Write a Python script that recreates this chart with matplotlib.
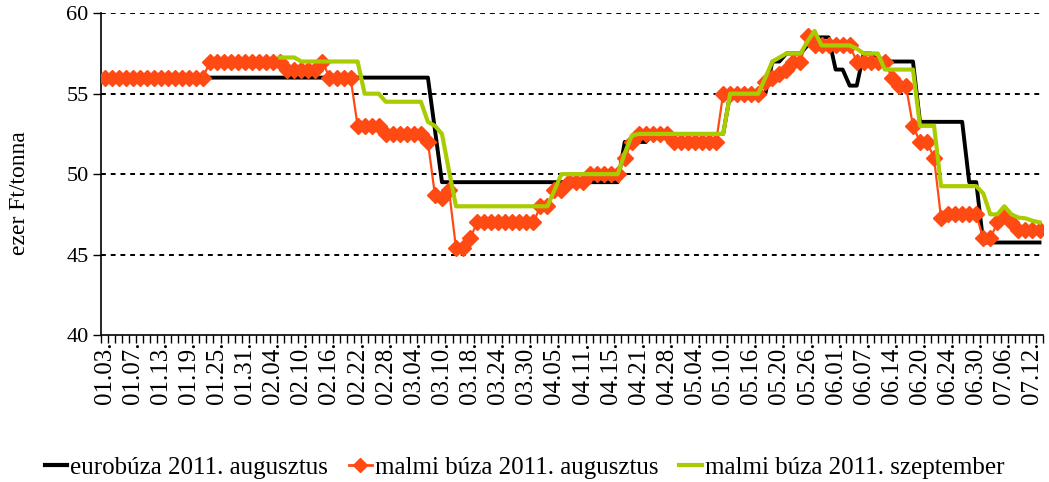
import numpy as np
import matplotlib
matplotlib.use("Agg")
import matplotlib.pyplot as plt
from matplotlib.lines import Line2D

plt.rcParams['font.family'] = ['Liberation Serif', 'DejaVu Serif']

# tőzsdei napok címkéi (minden 4. nap)
tick_labels = ['01.03.', '01.07.', '01.13.', '01.19.', '01.25.', '01.31.', '02.04.',
               '02.10.', '02.16.', '02.22.', '02.28.', '03.04.', '03.10.', '03.18.',
               '03.24.', '03.30.', '04.05.', '04.11.', '04.15.', '04.21.', '04.28.',
               '05.04.', '05.10.', '05.16.', '05.20.', '05.26.', '06.01.', '06.07.',
               '06.14.', '06.20.', '06.24.', '06.30.', '07.06.', '07.12.']

# eurobúza 2011. augusztus (ezer Ft/tonna)
eurobuza_aug = ([56] * 47 + [52.75] + [49.5] * 26 + [52] * 4 + [52.5] * 11 + [55] * 6
                + [57] * 2 + [57.5] * 3 + [58] + [58.5] * 3 + [56.5] * 2 + [55.5] * 2
                + [57.5] * 2 + [57] * 6 + [53.25] * 7 + [49.5] * 2 + [45.75] * 9)

# malmi búza 2011. augusztus
malmi_aug = ([56] * 15 + [57] * 11 + [56.5] * 5 + [57] + [56] * 4 + [53] * 4 + [52.5] * 6
             + [52, 48.7, 48.5, 49] + [45.4] * 2 + [46] + [47] * 9 + [48] * 2 + [49] * 2
             + [49.5] * 3 + [50] * 5 + [51, 52] + [52.5] * 5 + [52] * 7 + [55] * 6
             + [55.75, 56, 56.25, 56.5, 57, 57, 58.6] + [58] * 6 + [57] * 5 + [56]
             + [55.5] * 2 + [53, 52, 52, 51, 47.25] + [47.5] * 5 + [46] * 2
             + [47, 47.5, 47] + [46.5] * 4)

# malmi búza 2011. szeptember (csak január végétől)
malmi_szept = ([np.nan] * 25 + [57.25] * 3 + [57] * 9 + [55] * 3 + [54.5] * 6
               + [53.25, 53, 52.5, 50.2] + [48] * 14 + [49] + [50] * 9 + [51.3, 52.4]
               + [52.5] * 13 + [55] * 5 + [56, 57, 57.25] + [57.5] * 3 + [58.25, 58.9]
               + [58] * 5 + [57.8] + [57.5] * 3 + [56.5] * 5 + [53] * 3 + [49.25] * 6
               + [48.8, 47.5, 47.5, 48, 47.5, 47.3, 47.25, 47.1, 47])

c_black = '#000000'
c_orange = '#FF4A14'
c_green = '#A8CC00'

x = np.arange(len(eurobuza_aug))

fig = plt.figure(figsize=(10.49, 4.82), dpi=100)
ax = fig.add_axes([0.0963, 0.305, 0.8980, 0.6675])

ax.plot(x, eurobuza_aug, color=c_black, lw=2.8, zorder=3,
        label='eurobúza 2011. augusztus')
ax.plot(x, malmi_aug, color=c_orange, lw=1.6, marker='D', ms=8.5, mec=c_orange,
        zorder=4, label='malmi búza 2011. augusztus')
ax.plot(x, malmi_szept, color=c_green, lw=3, zorder=5,
        label='malmi búza 2011. szeptember')

ax.set_xlim(-0.5, len(x) - 0.5)
ax.set_ylim(40, 60)
ax.set_yticks([40, 45, 50, 55, 60])
for v in [45, 50, 55, 60]:
    ax.axhline(v, color='black', lw=1.4, ls=(0, (2.5, 2.5)), zorder=1)

# x tengely: osztásjelek a napok határán, címke minden 4. napnál
ax.set_xticks(np.arange(len(x) + 1) - 0.5)
ax.set_xticklabels([])
ax.set_xticks(np.arange(len(tick_labels)) * 4, minor=True)
ax.set_xticklabels(tick_labels, minor=True, rotation=90, fontsize=18)
ax.tick_params(axis='x', which='major', length=6, width=1, direction='out')
ax.tick_params(axis='x', which='minor', length=0, pad=5)
ax.tick_params(axis='y', length=6, width=1, labelsize=16, pad=3)

ax.spines['top'].set_visible(False)
ax.spines['right'].set_visible(False)
ax.spines['left'].set_linewidth(1.2)
ax.spines['bottom'].set_linewidth(1.2)

ax.set_ylabel('ezer Ft/tonna', fontsize=17)
ax.yaxis.set_label_coords(-0.075, 0.44)

handles = [Line2D([], [], color=c_black, lw=3),
           Line2D([], [], color=c_orange, lw=2, marker='D', ms=7),
           Line2D([], [], color=c_green, lw=3)]
labels = ['eurobúza 2011. augusztus', 'malmi búza 2011. augusztus',
          'malmi búza 2011. szeptember']
fig.legend(handles, labels, loc='lower center', bbox_to_anchor=(0.5, -0.04),
           ncol=3, frameon=False, fontsize=18, handlelength=0.9,
           handletextpad=0.12, columnspacing=0.85)

fig.savefig('out.png', dpi=100)
